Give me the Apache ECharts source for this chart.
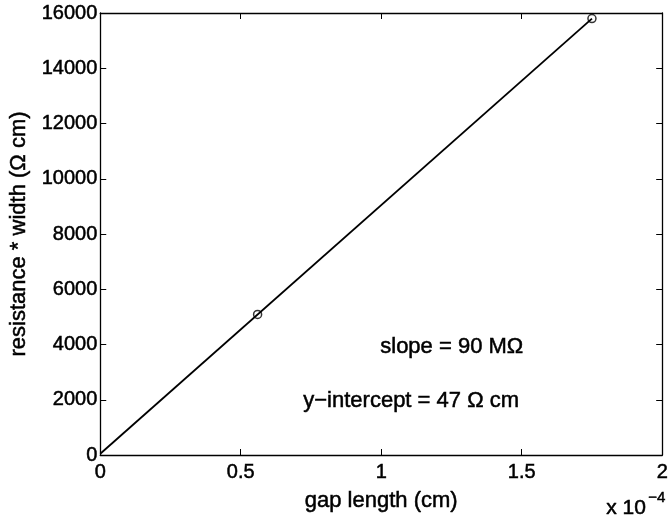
<!DOCTYPE html>
<html>
<head>
<meta charset="utf-8">
<script src="https://cdn.jsdelivr.net/npm/echarts@6/dist/echarts.min.js"></script>
<style>
  html, body { margin: 0; padding: 0; background: #fff; }
  #chart { width: 671px; height: 521px; }
</style>
</head>
<body>
<div id="chart"></div>
<script>
// Measured points: gap length (units of 1e-4 cm) and resistance * width (Ω cm)
const gapLength = [0.56, 1.75];
const resistanceWidth = [5087, 15797];

// Linear fit: slope in MΩ, intercept in Ω cm
const slopeMOhm = 90;
const interceptOhmCm = 47;
const fitRange = [0, 1.75];

// Axis ticks
const xTicks = [0, 0.5, 1, 1.5, 2];
const yTicks = [0, 2000, 4000, 6000, 8000, 10000, 12000, 14000, 16000];

// slope (Ω) * x (1e-4 cm) -> Ω cm
const fitLine = fitRange.map(x => [x, slopeMOhm * 1e6 * x * 1e-4 + interceptOhmCm]);
const points = gapLength.map((x, i) => [x, resistanceWidth[i]]);

const FONT = '"Liberation Sans", Arial, Helvetica, sans-serif';
const black = '#000';
const ink = { textBorderColor: black, textBorderWidth: 0.5 };

const baseAxis = {
  type: 'value',
  axisLine: { show: true, onZero: false, lineStyle: { color: black, width: 1.3 } },
  axisTick: { show: true, inside: true, length: 6, lineStyle: { color: black } },
  splitLine: { show: false },
};

const chart = echarts.init(document.getElementById('chart'), null, { renderer: 'canvas' });
chart.setOption({
  animation: false,
  backgroundColor: '#fff',
  grid: { left: 99, right: 4, top: 13, bottom: 66, containLabel: false },
  xAxis: [
    Object.assign({}, baseAxis, {
      position: 'bottom',
      min: xTicks[0], max: xTicks[xTicks.length - 1], interval: 0.5,
      axisLabel: Object.assign({ color: black, fontFamily: FONT, fontSize: 20, margin: 7,
        formatter: v => String(v) }, ink),
      name: 'gap length (cm)',
      nameLocation: 'middle', nameGap: 35,
      nameTextStyle: Object.assign({ color: black, fontFamily: FONT, fontSize: 22 }, ink),
    }),
    Object.assign({}, baseAxis, {
      position: 'top',
      min: xTicks[0], max: xTicks[xTicks.length - 1], interval: 0.5,
      axisLabel: { show: false },
    }),
  ],
  yAxis: [
    Object.assign({}, baseAxis, {
      position: 'left',
      min: yTicks[0], max: yTicks[yTicks.length - 1], interval: 2000,
      axisLabel: Object.assign({ color: black, fontFamily: FONT, fontSize: 20, margin: 3,
        formatter: v => String(v) }, ink),
      name: 'resistance * width (\u03A9 cm)',
      nameLocation: 'middle', nameGap: 60,
      nameTextStyle: Object.assign({ color: black, fontFamily: FONT, fontSize: 22 }, ink),
    }),
    Object.assign({}, baseAxis, {
      position: 'right',
      min: yTicks[0], max: yTicks[yTicks.length - 1], interval: 2000,
      axisLabel: { show: false },
    }),
  ],
  series: [
    {
      type: 'line',
      data: fitLine,
      showSymbol: false,
      lineStyle: { color: black, width: 1.8 },
      silent: true,
    },
    {
      type: 'scatter',
      data: points,
      symbol: 'circle',
      symbolSize: 8,
      itemStyle: { color: '#fff', borderColor: black, borderWidth: 1.5 },
    },
  ],
  graphic: [
    {
      type: 'text', left: 380, top: 336,
      style: { text: 'slope = ' + slopeMOhm + ' M\u03A9', fill: black,
        font: '22px ' + FONT, stroke: black, lineWidth: 0.5 },
    },
    {
      type: 'text', left: 303, top: 390,
      style: { text: 'y\u2212intercept = ' + interceptOhmCm + ' \u03A9 cm', fill: black,
        font: '22px ' + FONT, stroke: black, lineWidth: 0.5 },
    },
    {
      type: 'text', left: 606, top: 497,
      style: { text: 'x 10', fill: black, font: '21px ' + FONT, stroke: black, lineWidth: 0.5 },
    },
    {
      type: 'text', left: 648, top: 490,
      style: { text: '\u22124', fill: black, font: '15px ' + FONT, stroke: black, lineWidth: 0.5 },
    },
  ],
});
</script>
</body>
</html>
